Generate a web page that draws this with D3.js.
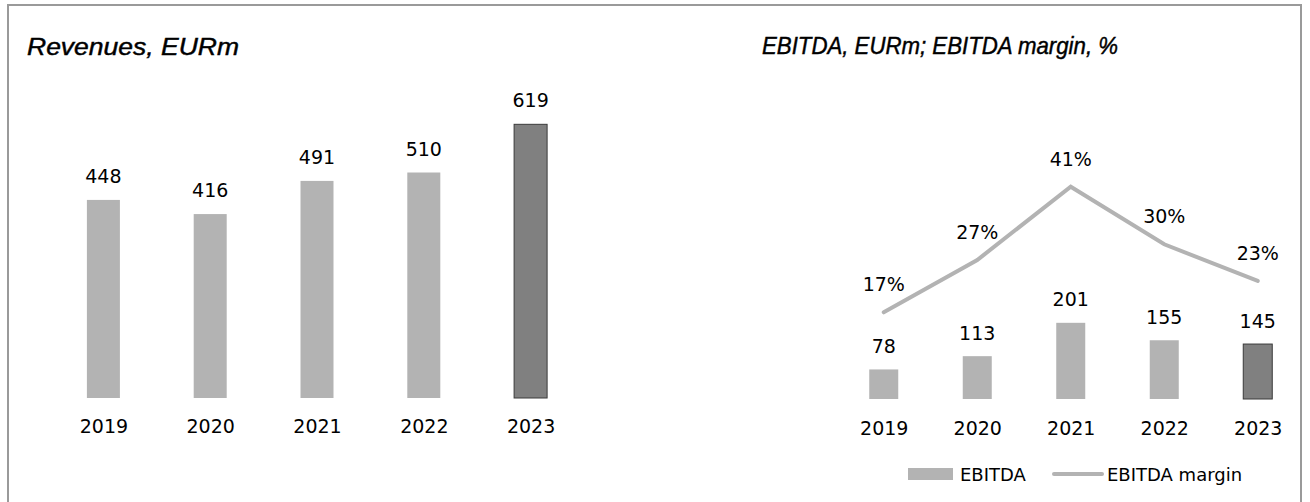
<!DOCTYPE html>
<html>
<head>
<meta charset="utf-8">
<script src="https://cdn.jsdelivr.net/npm/d3@7/dist/d3.min.js"></script>
<style>
  html, body { margin: 0; padding: 0; background: #fff; }
  svg { display: block; }
  text { font-family: "DejaVu Sans", "Liberation Sans", Arial, sans-serif; fill: #000; }
  .title { font-family: "Liberation Sans", Arial, sans-serif; font-style: italic; stroke: #000; stroke-width: 0.45px; }
</style>
</head>
<body>
<svg id="chart" width="1310" height="502"></svg>
<script>
// Financial data
const years = ["2019", "2020", "2021", "2022", "2023"];
const revenues = [448, 416, 491, 510, 619];
const ebitda = [78, 113, 201, 155, 145];
const ebitdaMargin = [17, 27, 41, 30, 23];
const highlightYear = "2023";

const svg = d3.select("#chart");

const lightFill = "#b3b3b3";
const darkFill = "#808080";
const darkStroke = "#3a3a3a";
const labelSize = 19;

// Outer frame
svg.append("rect")
  .attr("x", 8).attr("y", 5)
  .attr("width", 1293).attr("height", 520)
  .attr("fill", "none")
  .attr("stroke", "#9a9a9a")
  .attr("stroke-width", 2);

// Panel titles
svg.append("text")
  .attr("class", "title")
  .attr("x", 27).attr("y", 55)
  .attr("font-size", 24)
  .attr("textLength", 212).attr("lengthAdjust", "spacingAndGlyphs")
  .text("Revenues, EURm");

svg.append("text")
  .attr("class", "title")
  .attr("x", 762).attr("y", 54)
  .attr("font-size", 24)
  .attr("textLength", 356).attr("lengthAdjust", "spacingAndGlyphs")
  .text("EBITDA, EURm; EBITDA margin, %");

// ---------- Revenues panel ----------
const revRows = years.map((y, i) => ({ year: y, value: revenues[i] }));
const xRev = d3.scalePoint().domain(years).range([50, 584]).padding(0.5);
const yRev = d3.scaleLinear().domain([0, 700]).range([398, 88.5]);
const revBarW = 33;

const left = svg.append("g");
left.selectAll("rect.bar")
  .data(revRows).join("rect")
  .attr("class", "bar")
  .attr("x", d => xRev(d.year) - revBarW / 2)
  .attr("y", d => yRev(d.value))
  .attr("width", revBarW)
  .attr("height", d => yRev(0) - yRev(d.value))
  .attr("fill", d => d.year === highlightYear ? darkFill : lightFill)
  .attr("stroke", d => d.year === highlightYear ? darkStroke : "none")
  .attr("stroke-width", 1);

left.selectAll("text.val")
  .data(revRows).join("text")
  .attr("class", "val")
  .attr("x", d => xRev(d.year))
  .attr("y", d => yRev(d.value) - 17)
  .attr("text-anchor", "middle")
  .attr("font-size", labelSize)
  .text(d => d.value);

const revAxis = left.append("g")
  .attr("transform", "translate(0,398)")
  .call(d3.axisBottom(xRev).tickSize(0));
revAxis.select(".domain").remove();
revAxis.selectAll("text")
  .attr("font-size", labelSize)
  .attr("font-family", "DejaVu Sans, Liberation Sans, sans-serif")
  .attr("y", 35)
  .attr("dy", 0)
  .attr("fill", "#000");

// ---------- EBITDA panel ----------
const ebRows = years.map((y, i) => ({ year: y, value: ebitda[i], margin: ebitdaMargin[i] }));
const xEb = d3.scalePoint().domain(years).range([837, 1304.5]).padding(0.5);
const yEb = d3.scaleLinear().domain([0, 250]).range([399, 304.25]);
const yMargin = d3.scaleLinear().domain([0, 50]).range([401.3, 139.65]);
const ebBarW = 29;

const right = svg.append("g");
right.selectAll("rect.bar")
  .data(ebRows).join("rect")
  .attr("class", "bar")
  .attr("x", d => xEb(d.year) - ebBarW / 2)
  .attr("y", d => yEb(d.value))
  .attr("width", ebBarW)
  .attr("height", d => yEb(0) - yEb(d.value))
  .attr("fill", d => d.year === highlightYear ? darkFill : lightFill)
  .attr("stroke", d => d.year === highlightYear ? darkStroke : "none")
  .attr("stroke-width", 1);

right.selectAll("text.val")
  .data(ebRows).join("text")
  .attr("class", "val")
  .attr("x", d => xEb(d.year))
  .attr("y", d => yEb(d.value) - 16.5)
  .attr("text-anchor", "middle")
  .attr("font-size", labelSize)
  .text(d => d.value);

// Margin line
const marginLine = d3.line()
  .x(d => xEb(d.year))
  .y(d => yMargin(d.margin));

right.append("path")
  .datum(ebRows)
  .attr("d", marginLine)
  .attr("fill", "none")
  .attr("stroke", lightFill)
  .attr("stroke-width", 4)
  .attr("stroke-linecap", "round")
  .attr("stroke-linejoin", "miter");

right.selectAll("text.pct")
  .data(ebRows).join("text")
  .attr("class", "pct")
  .attr("x", d => xEb(d.year))
  .attr("y", d => yMargin(d.margin) - 21)
  .attr("text-anchor", "middle")
  .attr("font-size", labelSize)
  .text(d => d.margin + "%");

const ebAxis = right.append("g")
  .attr("transform", "translate(0,399)")
  .call(d3.axisBottom(xEb).tickSize(0));
ebAxis.select(".domain").remove();
ebAxis.selectAll("text")
  .attr("font-size", labelSize)
  .attr("font-family", "DejaVu Sans, Liberation Sans, sans-serif")
  .attr("y", 36)
  .attr("dy", 0)
  .attr("fill", "#000");

// Legend
const legend = svg.append("g");
legend.append("rect")
  .attr("x", 908).attr("y", 468)
  .attr("width", 45).attr("height", 12)
  .attr("fill", lightFill);
legend.append("text")
  .attr("x", 960).attr("y", 481)
  .attr("font-size", 18)
  .text("EBITDA");
legend.append("line")
  .attr("x1", 1054).attr("x2", 1102)
  .attr("y1", 474).attr("y2", 474)
  .attr("stroke", lightFill)
  .attr("stroke-width", 4)
  .attr("stroke-linecap", "round");
legend.append("text")
  .attr("x", 1107).attr("y", 481)
  .attr("font-size", 18)
  .text("EBITDA margin");
</script>
</body>
</html>
